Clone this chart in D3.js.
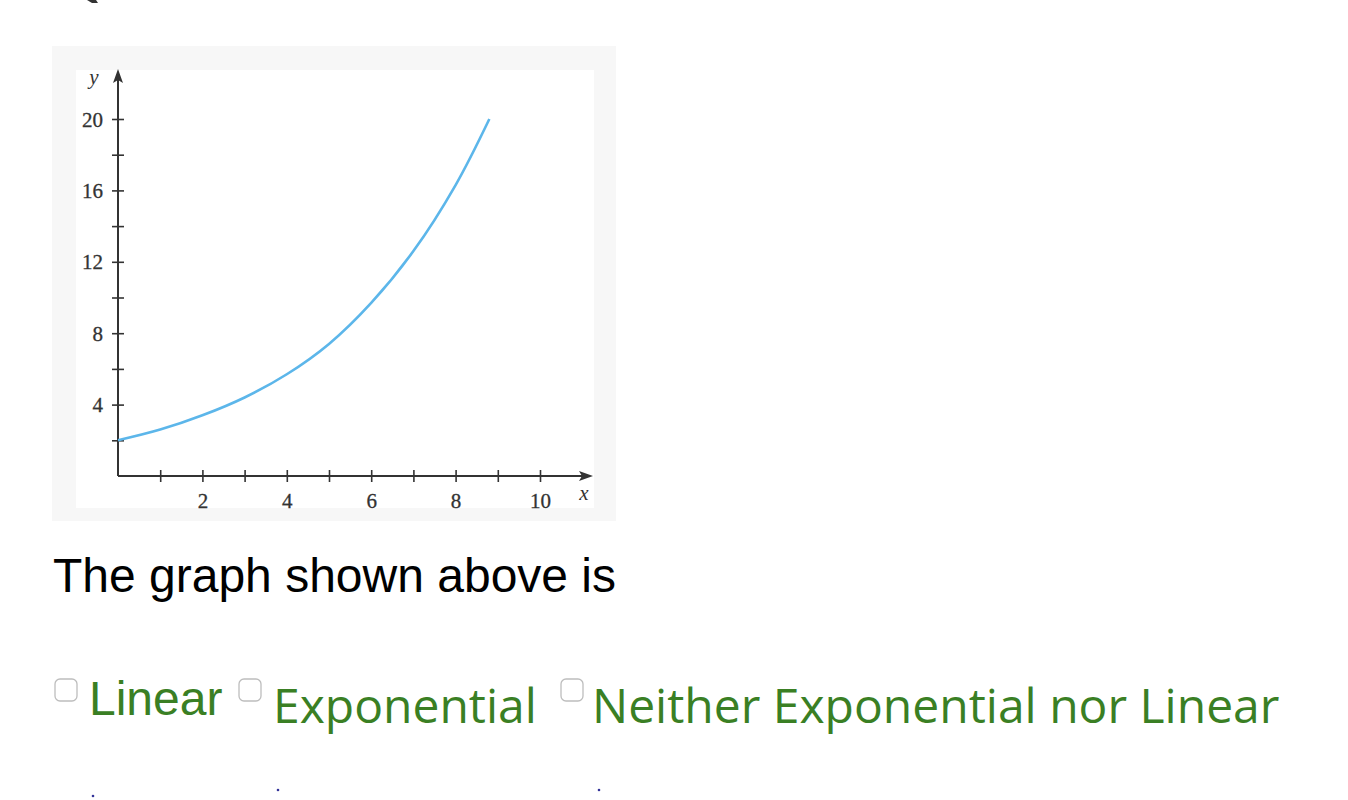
<!doctype html>
<html>
<head>
<meta charset="utf-8">
<style>
  html, body { margin: 0; padding: 0; background: #fff; }
  svg { display: block; }
</style>
<script src="https://d3js.org/d3.v7.min.js"></script>
</head>
<body>
<svg width="1348" height="800"></svg>
<script>
// values
var curveX = [0, 1, 2, 3, 4, 5, 6, 7, 8, 8.8];
var curveY = [2.0, 2.6, 3.4, 4.4, 5.7, 7.4, 9.7, 12.6, 16.3, 20];
var xTicks = [1, 2, 3, 4, 5, 6, 7, 8, 9, 10];
var yTicks = [2, 4, 6, 8, 10, 12, 14, 16, 18, 20];
var options = ["Linear", "Exponential", "Neither Exponential nor Linear"];

var svg = d3.select("svg");
var green = "#3a7f24";
var ink = "#333";

// tail of a cut-off heading glyph at the very top
svg.append("path").attr("d", "M87,0 L92,3 L98,3 L96,0 z").attr("fill", ink);

// picture frame
svg.append("rect").attr("x", 52).attr("y", 46).attr("width", 564).attr("height", 475).attr("fill", "#f7f7f7");
svg.append("rect").attr("x", 76).attr("y", 70).attr("width", 518).attr("height", 438).attr("fill", "#fff");

var x = d3.scaleLinear().domain([0, 10]).range([118, 540]);
var y = d3.scaleLinear().domain([0, 20]).range([476, 119]);

var serif = "Liberation Serif, Times New Roman, serif";

// x axis
var gx = svg.append("g").attr("transform", "translate(0," + y(0) + ")")
  .call(d3.axisBottom(x).tickValues(xTicks).tickSize(6)
    .tickFormat(function(d) { return d % 2 === 0 ? d : ""; }));
gx.select(".domain").remove();
gx.selectAll(".tick line").attr("y1", -6).attr("y2", 6).attr("stroke", ink).attr("stroke-width", 1.6);
gx.selectAll(".tick text").attr("y", 32).attr("dy", 0)
  .style("font-family", serif).style("font-size", "21px").attr("fill", ink)
  .attr("stroke", ink).attr("stroke-width", 0.3);

// y axis
var gy = svg.append("g").attr("transform", "translate(" + x(0) + ",0)")
  .call(d3.axisLeft(y).tickValues(yTicks).tickSize(6).tickPadding(9)
    .tickFormat(function(d) { return d % 4 === 0 ? d : ""; }));
gy.select(".domain").remove();
gy.selectAll(".tick line").attr("x1", 6).attr("x2", -6).attr("stroke", ink).attr("stroke-width", 1.6);
gy.selectAll(".tick text").attr("dy", "0.34em")
  .style("font-family", serif).style("font-size", "21px").attr("fill", ink)
  .attr("stroke", ink).attr("stroke-width", 0.3);

// axis lines with arrowheads
svg.append("line").attr("x1", x(0)).attr("y1", y(0)).attr("x2", 588).attr("y2", y(0))
  .attr("stroke", ink).attr("stroke-width", 2);
svg.append("line").attr("x1", x(0)).attr("y1", y(0)).attr("x2", x(0)).attr("y2", 76)
  .attr("stroke", ink).attr("stroke-width", 2);
svg.append("path")
  .attr("d", "M" + 593 + "," + y(0) + "l-14,-5 l3,5 l-3,5 z").attr("fill", ink);
svg.append("path")
  .attr("d", "M" + x(0) + ",69 l-5,14 l5,-3 l5,3 z").attr("fill", ink);

svg.append("text").attr("x", 94).attr("y", 84).attr("text-anchor", "middle")
  .style("font-family", serif).style("font-style", "italic").style("font-size", "21px")
  .attr("fill", ink).text("y");
svg.append("text").attr("x", 584).attr("y", 500).attr("text-anchor", "middle")
  .style("font-family", serif).style("font-style", "italic").style("font-size", "21px")
  .attr("fill", ink).text("x");

// the curve
var line = d3.line()
  .x(function(d, i) { return x(curveX[i]); })
  .y(function(d) { return y(d); })
  .curve(d3.curveCatmullRom.alpha(0.5));
svg.append("path").datum(curveY).attr("d", line)
  .attr("fill", "none").attr("stroke", "#5cb6ea").attr("stroke-width", 2.6);

// question text
svg.append("text").attr("x", 53).attr("y", 592)
  .style("font-family", "Liberation Sans, Arial, sans-serif").style("font-size", "48px")
  .attr("fill", "#000").text("The graph shown above is");

// answer choices
var boxX = [55, 239, 561];
var labelX = [89, 273, 592];
var labelY = [715, 723, 723];
var labelFont = ["Liberation Sans, Arial, sans-serif", "Open Sans, sans-serif", "Open Sans, sans-serif"];

var choice = svg.selectAll("g.choice").data(options).enter().append("g").attr("class", "choice");
choice.append("rect")
  .attr("x", function(d, i) { return boxX[i]; }).attr("y", 679)
  .attr("width", 22).attr("height", 22).attr("rx", 5)
  .attr("fill", "#fff").attr("stroke", "#bdbdbd").attr("stroke-width", 1.3);
choice.append("text")
  .attr("x", function(d, i) { return labelX[i]; })
  .attr("y", function(d, i) { return labelY[i]; })
  .style("font-family", function(d, i) { return labelFont[i]; })
  .style("font-size", "48px").attr("fill", green)
  .text(function(d) { return d; });

// stray dots below
var dotX = [93, 278, 599];
var dotY = [796, 790, 790];
svg.selectAll("circle.dot").data(dotX).enter().append("circle")
  .attr("cx", function(d) { return d; }).attr("cy", function(d, i) { return dotY[i]; })
  .attr("r", 1.3).attr("fill", "#333399");
</script>
</body>
</html>
